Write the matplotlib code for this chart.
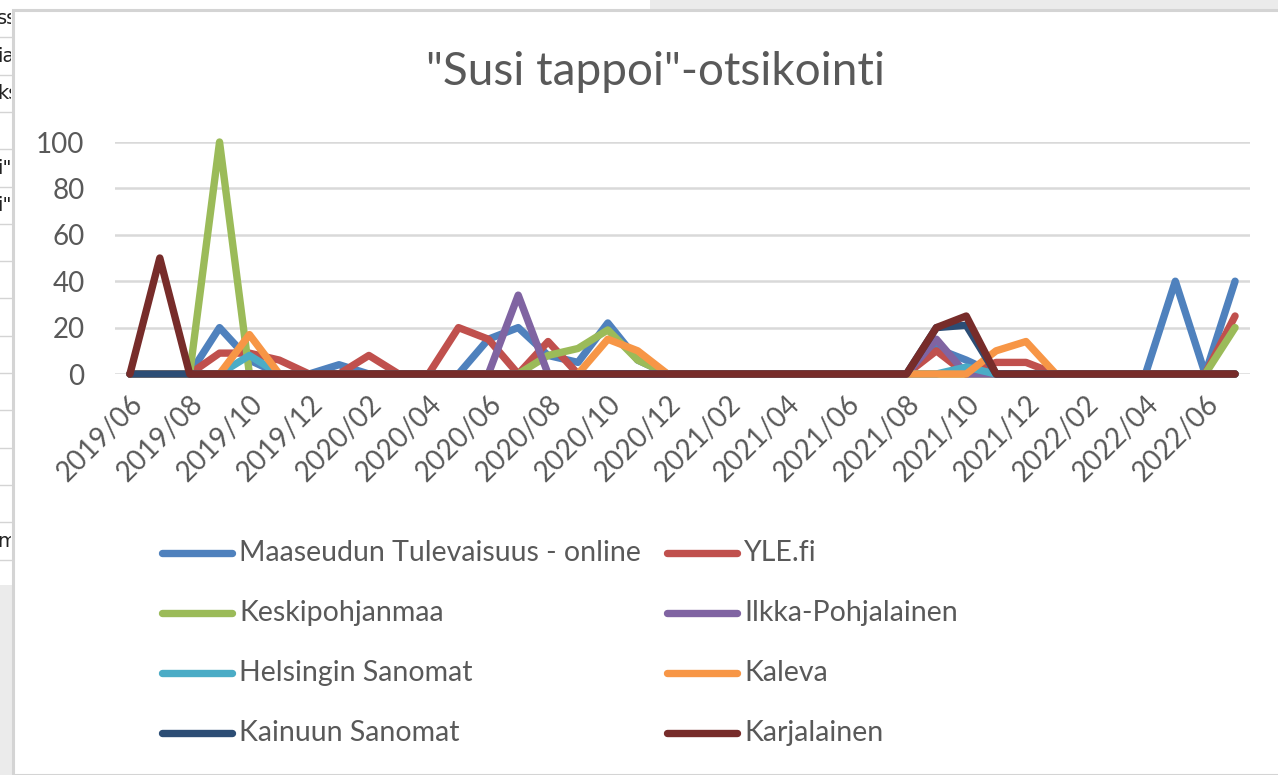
import matplotlib
matplotlib.use("Agg")
import matplotlib.pyplot as plt
from matplotlib.lines import Line2D
from matplotlib.patches import Rectangle

# monthly categories 2019/06 .. 2022/07
MONTHS = ["2019/06", "2019/07", "2019/08", "2019/09", "2019/10", "2019/11", "2019/12",
          "2020/01", "2020/02", "2020/03", "2020/04", "2020/05", "2020/06", "2020/07",
          "2020/08", "2020/09", "2020/10", "2020/11", "2020/12", "2021/01", "2021/02",
          "2021/03", "2021/04", "2021/05", "2021/06", "2021/07", "2021/08", "2021/09",
          "2021/10", "2021/11", "2021/12", "2022/01", "2022/02", "2022/03", "2022/04",
          "2022/05", "2022/06", "2022/07"]

MAASEUTU  = [0, 0, 0, 20, 6, 0, 0, 4, 0, 0, 0, 0, 15, 20, 8, 5, 22, 6, 0, 0, 0, 0, 0, 0, 0, 0, 0, 11, 6, 0, 0, 0, 0, 0, 0, 40, 0, 40]
YLE       = [0, 0, 0, 9, 9, 6, 0, 0, 8, 0, 0, 20, 15, 0, 14, 0, 0, 0, 0, 0, 0, 0, 0, 0, 0, 0, 0, 10, 0, 5, 5, 0, 0, 0, 0, 0, 0, 25]
KESKIPOHJ = [0, 0, 0, 100, 0, 0, 0, 0, 0, 0, 0, 0, 0, 0, 8, 11, 19, 6, 0, 0, 0, 0, 0, 0, 0, 0, 0, 0, 0, 0, 0, 0, 0, 0, 0, 0, 0, 20]
ILKKA     = [0, 0, 0, 0, 0, 0, 0, 0, 0, 0, 0, 0, 0, 34, 0, 0, 0, 0, 0, 0, 0, 0, 0, 0, 0, 0, 0, 15, 0, 0, 0, 0, 0, 0, 0, 0, 0, 0]
HS        = [0, 0, 0, 0, 8, 0, 0, 0, 0, 0, 0, 0, 0, 0, 0, 0, 0, 0, 0, 0, 0, 0, 0, 0, 0, 0, 0, 0, 3, 0, 0, 0, 0, 0, 0, 0, 0, 0]
KALEVA    = [0, 0, 0, 0, 17, 0, 0, 0, 0, 0, 0, 0, 0, 0, 0, 0, 15, 10, 0, 0, 0, 0, 0, 0, 0, 0, 0, 0, 0, 10, 14, 0, 0, 0, 0, 0, 0, 0]
KAINUU    = [0, 0, 0, 0, 0, 0, 0, 0, 0, 0, 0, 0, 0, 0, 0, 0, 0, 0, 0, 0, 0, 0, 0, 0, 0, 0, 0, 20, 21, 0, 0, 0, 0, 0, 0, 0, 0, 0]
KARJALA   = [0, 50, 0, 0, 0, 0, 0, 0, 0, 0, 0, 0, 0, 0, 0, 0, 0, 0, 0, 0, 0, 0, 0, 0, 0, 0, 0, 20, 25, 0, 0, 0, 0, 0, 0, 0, 0, 0]

SERIES = [
    ("Maaseudun Tulevaisuus - online", MAASEUTU,  "#4F81BD"),
    ("YLE.fi",                         YLE,       "#C0504D"),
    ("Keskipohjanmaa",                 KESKIPOHJ, "#9BBB59"),
    ("Ilkka-Pohjalainen",              ILKKA,     "#8064A2"),
    ("Helsingin Sanomat",              HS,        "#4BACC6"),
    ("Kaleva",                         KALEVA,    "#F79646"),
    ("Kainuun Sanomat",                KAINUU,    "#2C4D75"),
    ("Karjalainen",                    KARJALA,   "#772C2A"),
]

W, H = 1278, 775
TXT = "#595959"
LW = 5.3
plt.rcParams["font.family"] = ["Lato", "DejaVu Sans"]

fig = plt.figure(figsize=(W / 100, H / 100), dpi=100)


def fx(px):
    return px / W


def fy(py):
    return 1 - py / H


# spreadsheet bits around the chart object
fig.patches.append(Rectangle((fx(650), fy(9)), fx(W - 650), 9 / H, transform=fig.transFigure,
                             facecolor="#EBEBEB", edgecolor="none", zorder=0))
fig.patches.append(Rectangle((0, 0), fx(12), fy(585), transform=fig.transFigure,
                             facecolor="#EBEBEB", edgecolor="none", zorder=0))
fig.patches.append(Rectangle((fx(13), 0), fx(W), fy(10), transform=fig.transFigure,
                             facecolor="white", edgecolor="#D4D4D4", linewidth=2.2, zorder=1))
for k in range(1, 16):
    yy = fy(min(k * 37.3, 585))
    fig.add_artist(Line2D([0, fx(12)], [yy, yy], color="#D4D4D4", lw=1, zorder=1))
cell_ax = fig.add_axes([0, fy(585), fx(11), 585 / H])
cell_ax.set_xlim(0, 11)
cell_ax.set_ylim(585, 0)
cell_ax.axis("off")
for row, s in [(0, "ss"), (1, "ia"), (2, "ks"), (4, 'i"'), (5, 'i"'), (14, "m")]:
    cell_ax.text(-3, row * 37.3 + 19, s, fontsize=14, color="#222222", va="center",
                 ha="left", clip_on=True, family="DejaVu Sans")

# plot area
ax = fig.add_axes([fx(115), fy(374), fx(1250) - fx(115), (374 - 142) / H])
ax.set_zorder(3)
ax.patch.set_alpha(0)
x = list(range(len(MONTHS)))
for name, vals, col in SERIES:
    ax.plot(x, vals, color=col, lw=LW, solid_capstyle="round", solid_joinstyle="round",
            clip_on=False, zorder=3)

ax.set_xlim(-0.5, len(MONTHS) - 0.5)
ax.set_ylim(0, 100)
ax.set_yticks(range(0, 101, 20))
ax.grid(axis="y", color="#D9D9D9", lw=1.8)
ax.set_axisbelow(True)
for sp in ax.spines.values():
    sp.set_visible(False)
ax.tick_params(length=0)
ax.tick_params(axis="y", labelsize=20, labelcolor=TXT, pad=22)
ax.set_xticks(x[::2])
ax.set_xticklabels(MONTHS[::2], rotation=45, ha="right", rotation_mode="anchor",
                   fontsize=20, color=TXT)
ax.tick_params(axis="x", pad=12)

fig.text(fx(655), fy(72), '"Susi tappoi"-otsikointi', fontsize=33, color=TXT,
         ha="center", va="center", zorder=3)

# legend, two columns like the Excel chart
for i, (name, vals, col) in enumerate(SERIES):
    c, r = i % 2, i // 2
    x0 = 162 if c == 0 else 667
    yy = fy(553 + 60 * r)
    fig.add_artist(Line2D([fx(x0), fx(x0 + 70)], [yy, yy], color=col, lw=LW,
                          solid_capstyle="round", zorder=3))
    fig.text(fx(x0 + 77), yy, name, fontsize=20.5, color=TXT, ha="left", va="center",
             zorder=3)

fig.savefig("out.png", dpi=100)
